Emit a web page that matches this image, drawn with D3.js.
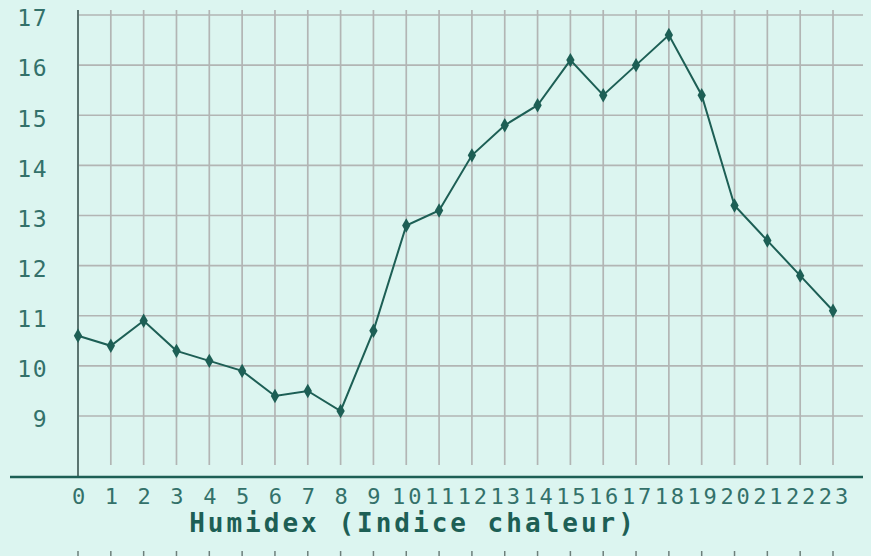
<!DOCTYPE html>
<html>
<head>
<meta charset="utf-8">
<script src="https://cdn.jsdelivr.net/npm/d3@7"></script>
<style>
  html, body { margin: 0; padding: 0; background: #dcf5f0; }
  svg { display: block; }
</style>
</head>
<body>
<svg id="chart" width="871" height="556"></svg>
<script>
// ---- data ----
const hours = [0,1,2,3,4,5,6,7,8,9,10,11,12,13,14,15,16,17,18,19,20,21,22,23];
const humidex = [10.6,10.4,10.9,10.3,10.1,9.9,9.4,9.5,9.1,10.7,12.8,13.1,14.2,14.8,15.2,16.1,15.4,16.0,16.6,15.4,13.2,12.5,11.8,11.1];
const yTicks = [9,10,11,12,13,14,15,16,17];
const xTickLabels = hours.map(String);
const xTitle = "Humidex (Indice chaleur)";

// ---- layout ----
const svg = d3.select("#chart");
const W = 871, H = 556;
const bg = "#dcf5f0", grid = "#b2b5b4", ink = "#1d5f55", txt = "#33716a";

svg.append("rect").attr("width", W).attr("height", H).attr("fill", bg);

const x = d3.scaleLinear().domain([0, 23]).range([78, 833]);
const y = d3.scaleLinear().domain([9, 17]).range([416, 15]);
const gridRight = 863, gridTop = 10, gridBottom = 465, axisY = 477;

// horizontal grid
svg.append("g").selectAll("line").data(yTicks).join("line")
  .attr("x1", x(0)).attr("x2", gridRight)
  .attr("y1", d => y(d)).attr("y2", d => y(d))
  .attr("stroke", grid).attr("stroke-width", 1.7);

// vertical grid
svg.append("g").selectAll("line").data(hours.slice(1)).join("line")
  .attr("x1", d => x(d)).attr("x2", d => x(d))
  .attr("y1", gridTop).attr("y2", gridBottom)
  .attr("stroke", grid).attr("stroke-width", 1.7);

// y axis line
svg.append("line").attr("x1", x(0)).attr("x2", x(0))
  .attr("y1", gridTop).attr("y2", axisY)
  .attr("stroke", "#5b7470").attr("stroke-width", 2);

// x axis line
svg.append("line").attr("x1", 10).attr("x2", gridRight)
  .attr("y1", axisY).attr("y2", axisY)
  .attr("stroke", ink).attr("stroke-width", 2.5);

// y tick labels via axis
const yAxis = svg.append("g").attr("transform", `translate(48,0)`)
  .call(d3.axisLeft(y).tickValues(yTicks).tickSize(0).tickPadding(0).tickFormat(d3.format("d")));
yAxis.select(".domain").remove();
yAxis.selectAll("text")
  .attr("font-family", "DejaVu Sans Mono, monospace")
  .attr("font-size", 23).attr("fill", txt)
  .attr("dy", "0.95em").attr("y", -11)
  .attr("letter-spacing", 1.5);

// x tick labels via axis
const xAxis = svg.append("g").attr("transform", `translate(0,${axisY})`)
  .call(d3.axisBottom(x).tickValues(hours).tickSize(0).tickPadding(0).tickFormat((d,i) => xTickLabels[i]));
xAxis.select(".domain").remove();
xAxis.selectAll("text")
  .attr("font-family", "DejaVu Sans Mono, monospace")
  .attr("font-size", 22).attr("fill", txt)
  .attr("y", 27).attr("dy", 0)
  .attr("letter-spacing", 2.8)
  .attr("dx", 1.4);

// x title
svg.append("text")
  .attr("x", 413).attr("y", 532)
  .attr("text-anchor", "middle")
  .attr("font-family", "DejaVu Sans Mono, monospace")
  .attr("font-weight", "bold")
  .attr("font-size", 26).attr("fill", ink)
  .attr("letter-spacing", 3)
  .text(xTitle);

// bottom small tick marks
svg.append("g").selectAll("line").data(hours).join("line")
  .attr("x1", d => x(d)).attr("x2", d => x(d))
  .attr("y1", 551).attr("y2", 556)
  .attr("stroke", "#6d7f7b").attr("stroke-width", 1.5);

// series line
const line = d3.line().x((d,i) => x(hours[i])).y(d => y(d));
svg.append("path").datum(humidex)
  .attr("d", line).attr("fill", "none")
  .attr("stroke", ink).attr("stroke-width", 2);

// markers
svg.append("g").selectAll("path").data(humidex).join("path")
  .attr("transform", (d,i) => `translate(${x(hours[i])},${y(d)})`)
  .attr("d", d3.symbol().type(d3.symbolDiamond).size(60))
  .attr("fill", ink);
</script>
</body>
</html>
